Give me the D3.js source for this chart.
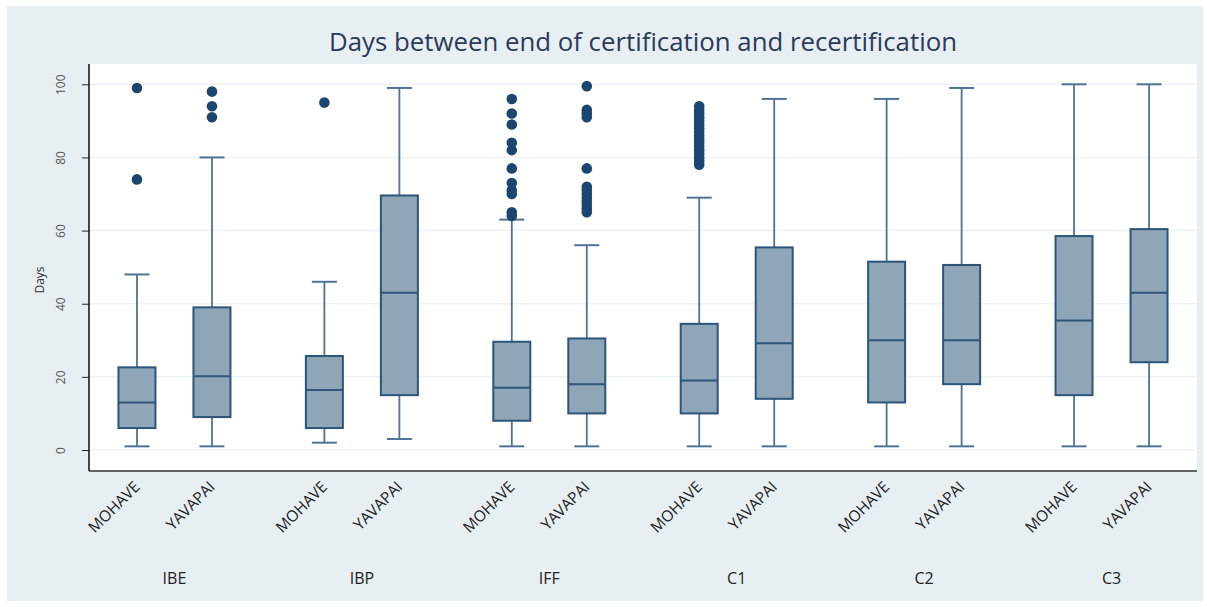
<!DOCTYPE html>
<html>
<head>
<meta charset="utf-8">
<script src="https://cdn.jsdelivr.net/npm/d3@7"></script>
<style>
  body { margin: 0; background: #ffffff; }
  svg { display: block; }
</style>
</head>
<body>
<svg id="chart" width="1207" height="607"></svg>
<script>
// ---------- DATA ----------
const programs = ["IBE", "IBP", "IFF", "C1", "C2", "C3"];
const counties = ["MOHAVE", "YAVAPAI"];
const yTicks = [0, 20, 40, 60, 80, 100];
// order: IBE-M, IBE-Y, IBP-M, IBP-Y, IFF-M, IFF-Y, C1-M, C1-Y, C2-M, C2-Y, C3-M, C3-Y
const whiskerLow  = [1, 1, 2, 3, 1, 1, 1, 1, 1, 1, 1, 1];
const q1          = [6, 9, 6, 15, 8, 10, 10, 14, 13, 18, 15, 24];
const median      = [13, 20.2, 16.4, 43, 17, 18, 19, 29.2, 30, 30, 35.4, 43];
const q3          = [22.6, 39, 25.7, 69.6, 29.6, 30.5, 34.5, 55.4, 51.5, 50.6, 58.5, 60.4];
const whiskerHigh = [48, 80, 46, 99, 63, 56, 69, 96, 96, 99, 100, 100];
const outliers = [
  [99, 74],
  [98, 94, 91],
  [95],
  [],
  [96, 92, 89, 84, 82, 77, 73, 71, 70, 65, 64],
  [99.5, 93, 92, 91, 77, 72, 71, 70, 69, 68, 67, 66, 65],
  [94, 93, 92, 91, 90, 89, 88, 87, 86, 85, 84, 83, 82, 81, 80, 79, 78],
  [], [], [], [], []
];

// ---------- LAYOUT ----------
const svg = d3.select("#chart");
const plot = { left: 89, right: 1197, top: 64, bottom: 471 };

svg.append("rect").attr("x", 7).attr("y", 6).attr("width", 1196).attr("height", 595)
  .attr("fill", "#e8eff2");
svg.append("rect").attr("x", plot.left).attr("y", plot.top)
  .attr("width", plot.right - plot.left).attr("height", plot.bottom - plot.top)
  .attr("fill", "#ffffff");

const y = d3.scaleLinear().domain([0, 100]).range([450, 84.3]);
const xg = d3.scalePoint().domain(programs).range([plot.left, plot.right]).padding(0.456);
const xi = d3.scalePoint().domain(counties).range([-37.5, 37.5]);

// gridlines
svg.append("g").selectAll("line").data(yTicks).join("line")
  .attr("x1", plot.left).attr("x2", plot.right)
  .attr("y1", d => y(d)).attr("y2", d => y(d))
  .attr("stroke", "#edf2f5").attr("stroke-width", 1.5);

// Title
svg.append("text").attr("x", 643).attr("y", 51).attr("text-anchor", "middle")
  .attr("font-family", "Open Sans, sans-serif").attr("font-size", 25.8)
  .attr("fill", "#2a3a5c").text("Days between end of certification and recertification");

// Y axis
const yAxis = d3.axisLeft(y).tickValues(yTicks).tickSize(7).tickPadding(5);
const yg = svg.append("g").attr("transform", `translate(${plot.left},0)`).call(yAxis);
yg.select(".domain").remove();
yg.selectAll(".tick line").attr("stroke", "#222").attr("stroke-width", 1);
yg.selectAll(".tick text")
  .attr("font-family", "Open Sans, sans-serif").attr("font-size", 12).attr("fill", "#555")
  .attr("transform", "rotate(-90, -15, 0)")
  .attr("x", -15).attr("y", -13).attr("dy", "0.32em").attr("text-anchor", "middle");

svg.append("line").attr("x1", plot.left).attr("x2", plot.left)
  .attr("y1", plot.top).attr("y2", plot.bottom).attr("stroke", "#1a1a1a").attr("stroke-width", 1.6);
svg.append("line").attr("x1", plot.left).attr("x2", plot.right)
  .attr("y1", plot.bottom).attr("y2", plot.bottom).attr("stroke", "#333").attr("stroke-width", 1.6);

svg.append("text").attr("transform", "translate(44,280) rotate(-90)")
  .attr("text-anchor", "middle").attr("font-family", "Open Sans, sans-serif")
  .attr("font-size", 12).attr("fill", "#333").text("Days");

// Boxes
const boxes = [];
programs.forEach((p, gi) => counties.forEach((c, ci) => {
  const i = gi * 2 + ci;
  boxes.push({ p, c, i, cx: xg(p) + xi(c) });
}));

const boxW = 37, capW = 25;
const whiskerColor = "#4f7396", boxStroke = "#2c5579", boxFill = "#8fa5b8", dotColor = "#1b4670";

const bg = svg.append("g");
boxes.forEach(b => {
  const g = bg.append("g");
  g.append("line").attr("x1", b.cx).attr("x2", b.cx)
    .attr("y1", y(q3[b.i])).attr("y2", y(whiskerHigh[b.i]))
    .attr("stroke", whiskerColor).attr("stroke-width", 1.8);
  g.append("line").attr("x1", b.cx).attr("x2", b.cx)
    .attr("y1", y(q1[b.i])).attr("y2", y(whiskerLow[b.i]))
    .attr("stroke", whiskerColor).attr("stroke-width", 1.8);
  [whiskerHigh[b.i], whiskerLow[b.i]].forEach(v => {
    g.append("line").attr("x1", b.cx - capW / 2).attr("x2", b.cx + capW / 2)
      .attr("y1", y(v)).attr("y2", y(v))
      .attr("stroke", whiskerColor).attr("stroke-width", 2);
  });
  g.append("rect").attr("x", b.cx - boxW / 2).attr("width", boxW)
    .attr("y", y(q3[b.i])).attr("height", y(q1[b.i]) - y(q3[b.i]))
    .attr("fill", boxFill).attr("stroke", boxStroke).attr("stroke-width", 2);
  g.append("line").attr("x1", b.cx - boxW / 2).attr("x2", b.cx + boxW / 2)
    .attr("y1", y(median[b.i])).attr("y2", y(median[b.i]))
    .attr("stroke", boxStroke).attr("stroke-width", 2);
  g.selectAll("circle").data(outliers[b.i]).join("circle")
    .attr("cx", b.cx).attr("cy", d => y(d)).attr("r", 5.3).attr("fill", dotColor);
});

// X labels (county, rotated)
svg.append("g").selectAll("text").data(boxes).join("text")
  .attr("transform", d => `translate(${d.cx},${plot.bottom + 13}) rotate(-45)`)
  .attr("text-anchor", "end").attr("dy", "0.35em")
  .attr("font-family", "Open Sans, sans-serif").attr("font-size", 15.5).attr("fill", "#222")
  .text(d => d.c);

// Group labels
svg.append("g").selectAll("text").data(programs).join("text")
  .attr("x", d => xg(d)).attr("y", 584).attr("text-anchor", "middle")
  .attr("font-family", "Open Sans, sans-serif").attr("font-size", 16).attr("fill", "#222")
  .text(d => d);
</script>
</body>
</html>
